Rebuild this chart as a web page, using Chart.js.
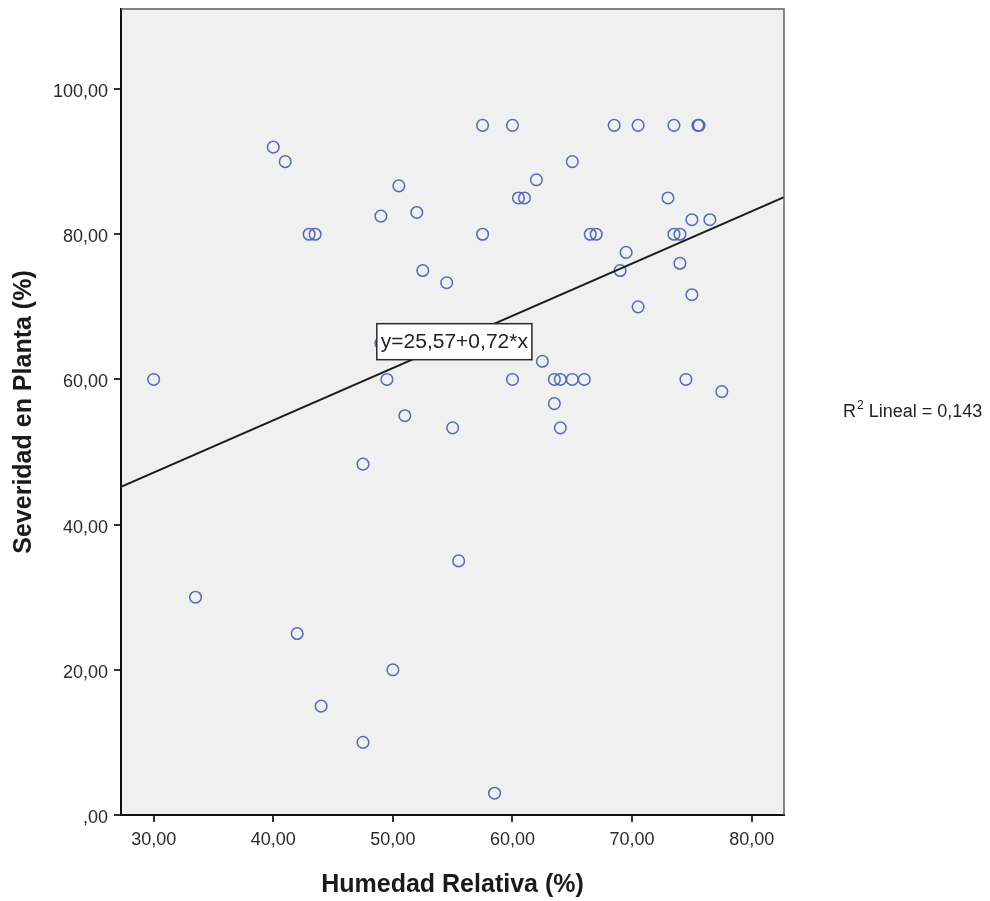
<!DOCTYPE html>
<html>
<head>
<meta charset="utf-8">
<script src="https://cdn.jsdelivr.net/npm/chart.js@4/dist/chart.umd.min.js"></script>
<style>
  html, body { margin: 0; padding: 0; background: #ffffff; }
  #wrap { width: 990px; height: 901px; }
</style>
</head>
<body>
<div id="wrap"><canvas id="c" width="990" height="901"></canvas></div>
<script>
// Humedad relativa (%) por observación
const humedad = [
  30, 33.5, 40, 41, 42, 43, 43.5, 44, 47.5, 47.5,
  49, 49, 49.5, 50, 50.5, 51, 52, 52.5, 54.5, 55,
  55.5, 57.5, 57.5, 58.5, 60, 60, 60.5, 61, 62, 62.5,
  63.5, 63.5, 64, 64, 65, 65, 66, 66.5, 67, 68.5,
  69, 69.5, 70.5, 70.5, 73, 73.5, 73.5, 74, 74, 74.5,
  75, 75, 75.5, 75.6, 76.5, 77.5
];
// Severidad en planta (%) por observación
const severidad = [
  60, 30, 92, 90, 25, 80, 80, 15, 48.33, 10,
  82.5, 65, 60, 20, 86.67, 55, 83, 75, 73.33, 53.33,
  35, 95, 80, 3, 95, 60, 85, 85, 87.5, 62.5,
  60, 56.67, 60, 53.33, 90, 60, 60, 80, 80, 95,
  75, 77.5, 95, 70, 85, 95, 80, 80, 76, 60,
  82, 71.67, 95, 95, 82, 58.33
];

// Ajuste lineal y bondad de ajuste
const intercepto = 25.57;
const pendiente = 0.72;
const r2 = 0.143;

// Rangos y marcas de los ejes
const xRange = [27.27, 82.7];
const yRange = [0, 111.03];
const xTicks = [30, 40, 50, 60, 70, 80];
const yTicks = [0, 20, 40, 60, 80, 100];

const fmt = v => (v === 0 ? ',00' : v.toFixed(2).replace('.', ','));
const fontFam = '"Liberation Sans", Arial, Helvetica, sans-serif';

const puntos = humedad.map((h, i) => ({ x: h, y: severidad[i] }));
const recta = xRange.map(x => ({ x: x, y: intercepto + pendiente * x }));
const ecuacion = 'y=' + fmt(intercepto) + '+' + fmt(pendiente) + '*x';

const decor = {
  id: 'decor',
  beforeDraw(chart) {
    const { ctx, chartArea: a } = chart;
    ctx.save();
    ctx.fillStyle = '#f0f0f0';
    ctx.fillRect(a.left, a.top, a.right - a.left, a.bottom - a.top);
    ctx.restore();
  },
  afterDatasetsDraw(chart) {
    const { ctx, chartArea: a, scales } = chart;
    ctx.save();
    // marco superior y derecho del área de trazado
    ctx.strokeStyle = '#5e5e5e';
    ctx.lineWidth = 1.5;
    ctx.beginPath();
    ctx.moveTo(a.left, a.top);
    ctx.lineTo(a.right, a.top);
    ctx.lineTo(a.right, a.bottom);
    ctx.stroke();

    // etiqueta con la ecuación de la recta
    const cx = scales.x.getPixelForValue(55.14);
    const cy = scales.y.getPixelForValue(65.2);
    ctx.font = '21px ' + fontFam;
    const w = ctx.measureText(ecuacion).width + 8;
    const h = 36;
    ctx.fillStyle = '#ffffff';
    ctx.fillRect(cx - w / 2, cy - h / 2, w, h);
    ctx.strokeStyle = '#2a2a2a';
    ctx.lineWidth = 1.5;
    ctx.strokeRect(cx - w / 2, cy - h / 2, w, h);
    ctx.fillStyle = '#222222';
    ctx.textAlign = 'center';
    ctx.textBaseline = 'middle';
    ctx.fillText(ecuacion, cx, cy + 1);

    // R² del ajuste lineal
    let tx = 843;
    const ty = 412;
    ctx.textAlign = 'left';
    ctx.textBaseline = 'middle';
    ctx.fillStyle = '#222222';
    ctx.font = '18px ' + fontFam;
    ctx.fillText('R', tx, ty);
    tx += ctx.measureText('R').width;
    ctx.font = '12px ' + fontFam;
    ctx.fillText('2', tx + 1, ty - 6);
    tx += ctx.measureText('2').width + 1;
    ctx.font = '18px ' + fontFam;
    ctx.fillText(' Lineal = ' + r2.toFixed(3).replace('.', ','), tx, ty);
    ctx.restore();
  }
};

new Chart(document.getElementById('c'), {
  type: 'scatter',
  data: {
    datasets: [
      {
        type: 'scatter',
        data: puntos,
        pointStyle: 'circle',
        pointRadius: 5.8,
        pointBorderWidth: 1.5,
        pointBorderColor: 'rgb(86,104,184)',
        pointBackgroundColor: 'rgba(0,0,0,0)',
        order: 2
      },
      {
        type: 'line',
        data: recta,
        borderColor: '#1e1e1e',
        borderWidth: 2,
        pointRadius: 0,
        fill: false,
        order: 1
      }
    ]
  },
  options: {
    responsive: false,
    animation: false,
    devicePixelRatio: 1,
    layout: { padding: { left: 0, top: 9, right: 206, bottom: 0 } },
    plugins: { legend: { display: false }, tooltip: { enabled: false } },
    scales: {
      x: {
        type: 'linear',
        min: xRange[0],
        max: xRange[1],
        afterFit(s) { s.height = 86; s.paddingLeft = 0; s.paddingRight = 0; },
        afterBuildTicks(s) { s.ticks = xTicks.map(v => ({ value: v })); },
        border: { display: true, color: '#111111', width: 2 },
        grid: { display: true, drawOnChartArea: false, drawTicks: true, tickLength: 7, color: '#333333', lineWidth: 2 },
        ticks: {
          padding: 7,
          color: '#2a2a2a',
          font: { family: fontFam, size: 18 },
          maxRotation: 0,
          autoSkip: false,
          callback: v => fmt(v)
        },
        title: {
          display: true,
          text: 'Humedad Relativa (%)',
          color: '#1a1a1a',
          font: { family: fontFam, size: 25, weight: 'bold', lineHeight: 1.2 },
          padding: { top: 0, bottom: 1 }
        }
      },
      y: {
        type: 'linear',
        min: yRange[0],
        max: yRange[1],
        afterFit(s) { s.width = 121; s.paddingTop = 0; s.paddingBottom = 0; },
        afterBuildTicks(s) { s.ticks = yTicks.map(v => ({ value: v })); },
        border: { display: true, color: '#111111', width: 2 },
        grid: { display: true, drawOnChartArea: false, drawTicks: true, tickLength: 7, color: '#333333', lineWidth: 2 },
        ticks: {
          padding: 6,
          labelOffset: 3,
          color: '#2a2a2a',
          font: { family: fontFam, size: 18 },
          autoSkip: false,
          callback: v => fmt(v)
        },
        title: {
          display: true,
          text: 'Severidad en Planta (%)',
          color: '#1a1a1a',
          font: { family: fontFam, size: 25, weight: 'bold', lineHeight: 1.2 },
          padding: { top: 9, bottom: 0 }
        }
      }
    }
  },
  plugins: [decor]
});
</script>
</body>
</html>
